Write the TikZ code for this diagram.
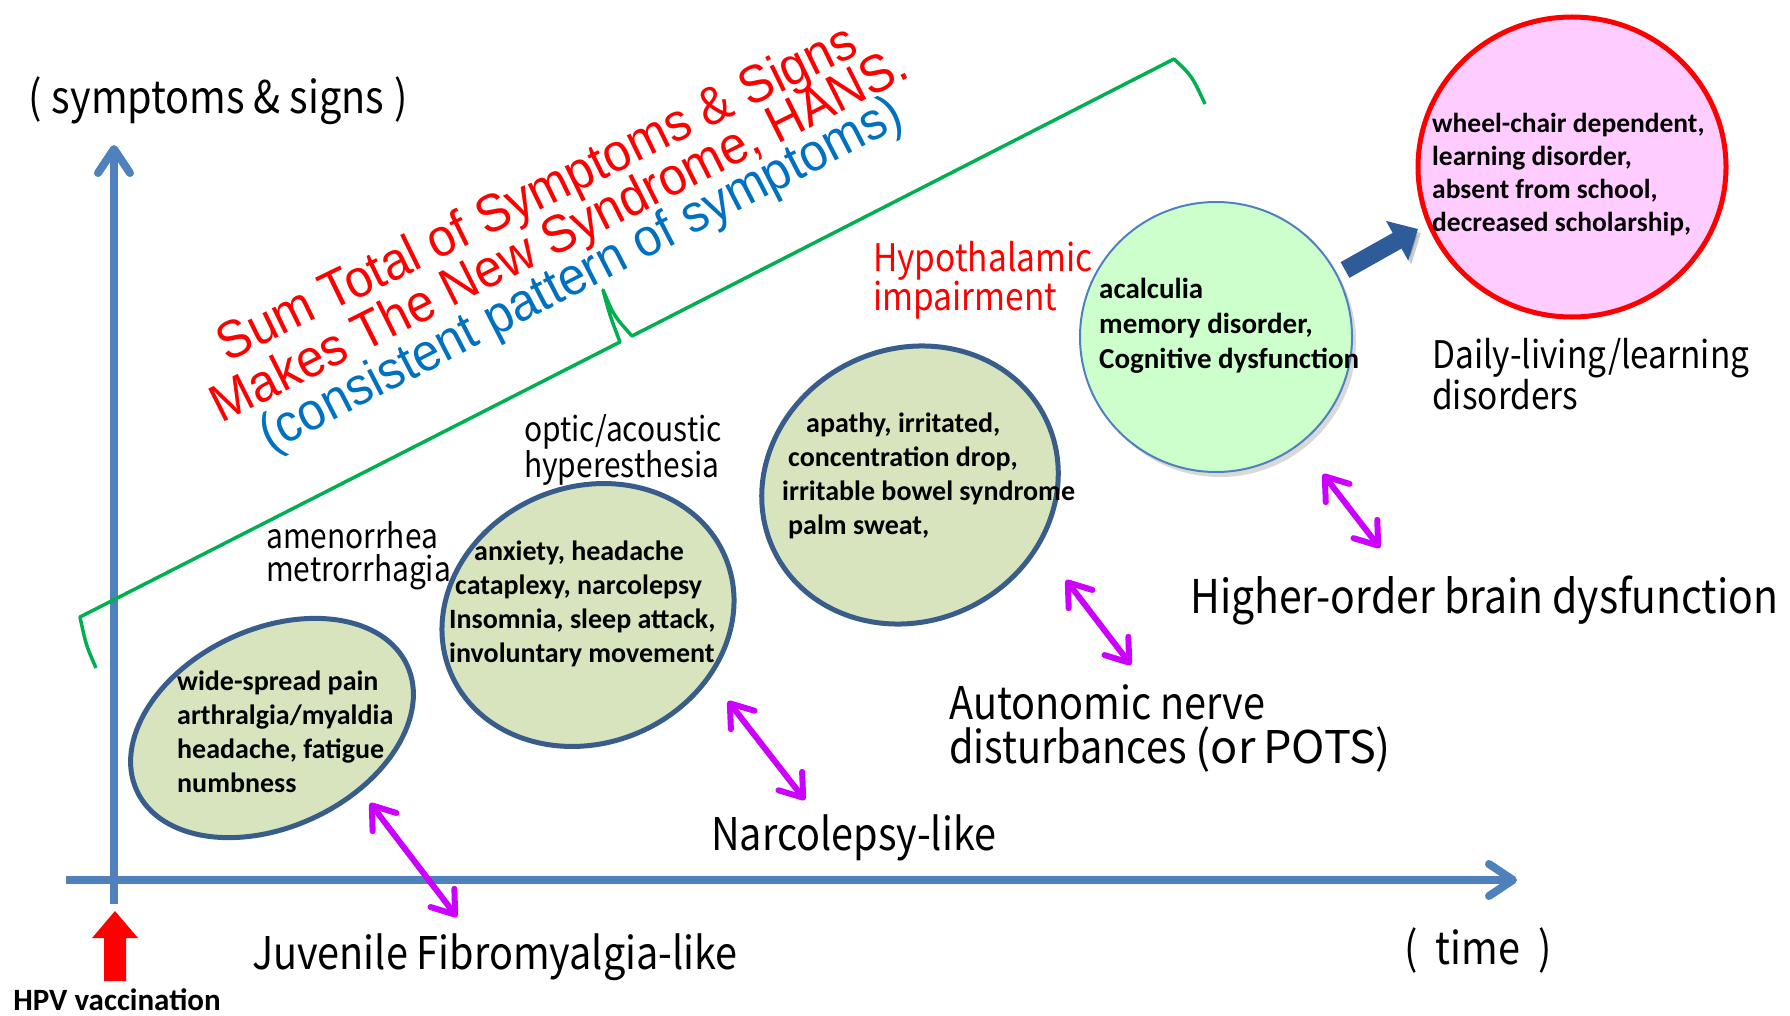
\documentclass[tikz,border=0pt]{standalone}
\usepackage{fontspec}
\setmainfont{Liberation Sans}
\newfontfamily\gothfont{Noto Sans CJK JP}[FakeStretch=0.88]
\newfontfamily\gothwide{Noto Sans CJK JP}
\newfontfamily\headfont{Liberation Sans}[FakeStretch=0.93]
\newfontfamily\calfont{Carlito}
\usetikzlibrary{arrows.meta, shapes.geometric, shadows}

\definecolor{axisblue}{HTML}{4F81BD}
\definecolor{edgeblue}{HTML}{385D8A}
\definecolor{olivefill}{HTML}{D7E4BD}
\definecolor{mintfill}{HTML}{CCFFCC}
\definecolor{pinkfill}{HTML}{FFCCFF}
\definecolor{bracegreen}{HTML}{00B050}
\definecolor{textblue}{HTML}{0070C0}
\definecolor{linkmag}{HTML}{CC00FF}
\definecolor{arrowblue}{HTML}{2E5C99}

\begin{document}
\begin{tikzpicture}[x=1pt, y=-1pt,
  sym/.style={ellipse, draw=edgeblue, line width=5pt, fill=olivefill, inner sep=0},
  symtext/.style={anchor=west, align=left, inner sep=0, font=\calfont\bfseries\fontsize{28}{34}\selectfont},
  stage/.style={anchor=west, align=left, inner sep=0, font=\gothfont\fontsize{45}{44}\selectfont},
  small/.style={anchor=west, align=left, inner sep=0, font=\gothfont\fontsize{34}{33}\selectfont},
  headline/.style={anchor=base, inner sep=0, font=\headfont\fontsize{53}{55}\selectfont},
  link/.style={linkmag, line width=6pt, line cap=round,
    arrows={Straight Barb[length=21pt,width=30pt,round]-Straight Barb[length=21pt,width=30pt,round]}},
  axis/.style={axisblue, line width=8pt, arrows={-Straight Barb[length=24pt,width=32pt,round]}},
  brace/.style={bracegreen, line width=3.5pt, line join=round},
]
\useasboundingbox (0,0) rectangle (1790,1016);

% axes
\coordinate (ybot) at (114,904);
\coordinate (ytop) at (114,145);
\coordinate (xleft) at (66,880);
\coordinate (xright) at (1517,880);
\draw [axis] (ybot) -- (ytop);
\draw [axis] (xleft) -- (xright);
\node (yname) [inner sep=0, font=\gothfont\fontsize{45}{46}\selectfont] at (218,101) {(\hspace{10pt}symptoms \& signs\hspace{10pt})};
\node (xname) [inner sep=0, font=\gothfont\fontsize{45}{46}\selectfont] at (1478,950) {(\hspace{18pt}time\hspace{18pt})};

% vaccination
\coordinate (hpv) at (115,911);
\fill [red] (hpv) -- ++(23,27) -- ++(-12,0) -- ++(0,43) -- ++(-22,0) -- ++(0,-43) -- ++(-12,0) -- cycle;
\node (hpvtxt) [inner sep=0, font=\calfont\bfseries\fontsize{31}{32}\selectfont] at (117,1000) {HPV vaccination};

% bracket over the stages
\draw [brace] (96,668) .. controls (86,645) .. (80,617) -- (620,342)
  .. controls (610,316) .. (603,290) .. controls (614,316) .. (632,336)
  -- (1174,59) .. controls (1192,76) .. (1205,104);

\node (sum1) [headline, red, rotate=26] at (544,208) {Sum Total of Symptoms \& Signs};
\node (sum2) [headline, red, rotate=26.7] at (567,250) {Makes The New Syndrome, HANS.};
\node (sum3) [headline, textblue, rotate=27.3] at (588,289) {(consistent pattern of symptoms)};

% symptom groups
\node (jfm) [sym, minimum width=298pt, minimum height=198pt, rotate=25] at (272,728) {};
\node (narco) [sym, minimum width=298pt, minimum height=256pt, rotate=23] at (588,615) {};
\node (auto) [sym, minimum width=302pt, minimum height=272pt, rotate=26] at (910,485) {};
\node (cog) [ellipse, draw=axisblue, line width=2pt, fill=mintfill, minimum width=272pt, minimum height=270pt,
  drop shadow={shadow xshift=4pt, shadow yshift=-5pt, opacity=0.3}] at (1216,337) {};
\node (daily) [ellipse, draw=red, line width=5pt, fill=pinkfill, minimum width=308pt, minimum height=300pt] at (1572,167) {};

\node (jfmtxt) [symtext] at (177,732) {wide-spread pain\\arthralgia/myaldia\\headache, fatigue\\numbness};
\node (narcotxt) [symtext] at (449,604) {\hspace*{25pt}anxiety, headache\\\hspace*{6pt}cataplexy, narcolepsy\\Insomnia, sleep attack,\\involuntary movement};
\node (autotxt) [symtext] at (782,476) {\hspace*{24pt}apathy, irritated,\\\hspace*{6pt}concentration drop,\\irritable bowel syndrome\\\hspace*{6pt}palm sweat,};
\node (cogtxt) [symtext, font=\calfont\bfseries\fontsize{29}{35}\selectfont] at (1099,326) {acalculia\\memory disorder,\\Cognitive dysfunction};
\node (dailytxt) [symtext, font=\calfont\bfseries\fontsize{27.5}{33}\selectfont] at (1432,175) {wheel-chair dependent,\\learning disorder,\\absent from school,\\decreased scholarship,};

% side notes
\node (mens) [small] at (266,556) {amenorrhea\\metrorrhagia};
\node (optic) [small] at (524,450) {optic/acoustic\\hyperesthesia};
\node (hypo) [small, red, font=\gothfont\fontsize{38}{38}\selectfont] at (873,280) {Hypothalamic\\impairment};

% stage names
\node (jfmname) [stage] at (252,957) {Juvenile Fibromyalgia-like};
\node (narconame) [stage] at (711,838) {Narcolepsy-like};
\node (autoname) [stage] at (949,728) {Autonomic nerve\\disturbances {\gothwide(or\hspace{8pt}POTS)}};
\node (cogname) [stage, font=\gothfont\fontsize{46.5}{44}\selectfont] at (1190,600) {Higher-order brain dysfunction};
\node (dailyname) [stage, font=\gothfont\fontsize{38}{39}\selectfont] at (1432,374) {Daily-living/learning\\disorders};

% links between groups and names
\coordinate (l1a) at (370,803); \coordinate (l1b) at (457,917);
\coordinate (l2a) at (728,701); \coordinate (l2b) at (805,800);
\coordinate (l3a) at (1066,580); \coordinate (l3b) at (1131,665);
\coordinate (l4a) at (1323,474); \coordinate (l4b) at (1380,548);
\path [link]
  (l1a) edge (l1b)
  (l2a) edge (l2b)
  (l3a) edge (l3b)
  (l4a) edge (l4b);

% progression arrow
\coordinate (b1) at (1345,270);
\coordinate (b2) at (1418,229);
\draw [arrowblue, line width=18pt, -{Triangle[length=24pt,width=44pt]},
  preaction={draw=black, opacity=0.2, transform canvas={shift={(3pt,-4pt)}}}] (b1) -- (b2);
\end{tikzpicture}
\end{document}
